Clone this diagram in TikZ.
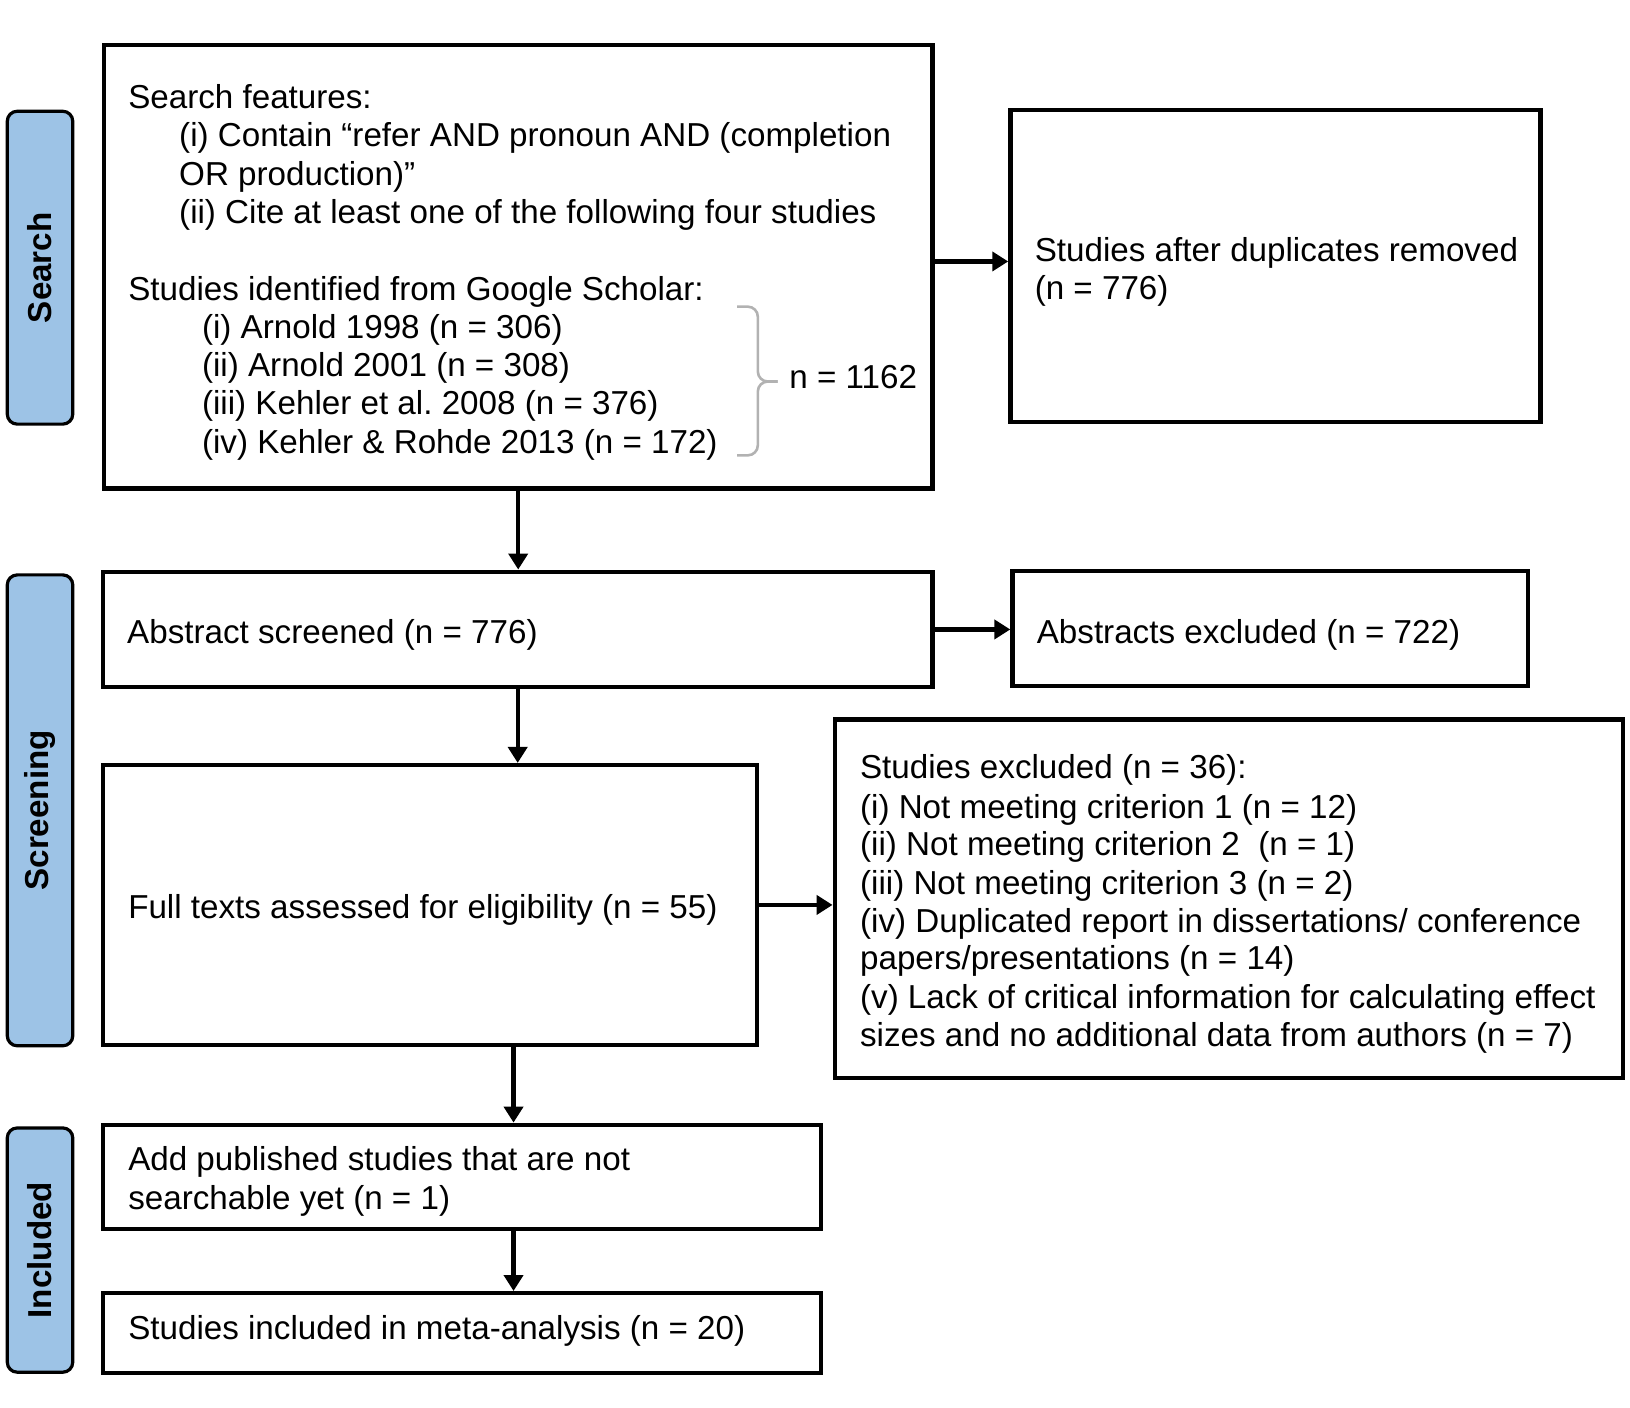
\documentclass[tikz,border=0pt]{standalone}
\usepackage{fontspec}
\setmainfont{Liberation Sans}
\usetikzlibrary{fit,arrows.meta}
\definecolor{stagefill}{RGB}{157,195,230}
\definecolor{bracegray}{RGB}{178,178,178}

\begin{document}
\begin{tikzpicture}[x=0.52pt,y=-0.52pt,
  box/.style={draw,line width=2.2pt,inner sep=0pt},
  stagebox/.style={draw,line width=1.6pt,fill=stagefill,rounded corners=5pt,inner sep=0pt},
  txt/.style={anchor=base west,inner sep=0pt,font=\fontsize{16.6pt}{19pt}\selectfont},
  lbl/.style={rotate=90,inner sep=0pt,font=\fontsize{16.6pt}{19pt}\selectfont\bfseries},
  arr/.style={-{Triangle[length=8pt,width=9.5pt]},line width=2.1pt}]
        \useasboundingbox (0,0) rectangle (1568,1354);
        % stages
        \node[stagebox,fit={(7,107) (70,408)}] (sSearch) {};
        \node[stagebox,fit={(7,553) (70,1006)}] (sScreen) {};
        \node[stagebox,fit={(7,1085) (70,1320)}] (sIncl) {};
        \node[lbl] at (sSearch) {Search};
        \node[lbl] at (sScreen) {Screening};
        \node[lbl] at (sIncl) {Included};
        % boxes
        \node[box,fit={(100,43) (897,470)}] (search) {};
        \node[box,fit={(972,106) (1482,406)}] (dup) {};
        \node[box,fit={(99,550) (897,661)}] (abstr) {};
        \node[box,fit={(974,549) (1470,660)}] (absex) {};
        \node[box,fit={(99,736) (728,1005)}] (full) {};
        \node[box,fit={(803,692) (1561,1037)}] (studex) {};
        \node[box,fit={(99,1082) (790,1182)}] (add) {};
        \node[box,fit={(99,1244) (790,1321)}] (incl) {};
        % search box text
        \node[txt] (sf0) at (123,104) {Search features:};
        \node[txt] (sf1) at (172,141) {(i) Contain “refer AND pronoun AND (completion};
        \node[txt] (sf2) at (172,178) {OR production)”};
        \node[txt] (sf3) at (172,215) {(ii) Cite at least one of the following four studies};
        \node[txt] (gs0) at (123,289) {Studies identified from Google Scholar:};
        \node[txt] (gs1) at (194,326) {(i) Arnold 1998 (n = 306)};
        \node[txt] (gs2) at (194,362) {(ii) Arnold 2001 (n = 308)};
        \node[txt] (gs3) at (194,399) {(iii) Kehler et al.\ 2008 (n = 376)};
        \node[txt] (gs4) at (194,436) {(iv) Kehler \& Rohde 2013 (n = 172)};
        \draw[bracegray,line width=1.3pt,rounded corners=5pt] (709,295) -- (729,295) -- (729,367) -- (748,367);
        \draw[bracegray,line width=1.3pt,rounded corners=5pt] (709,438) -- (729,438) -- (729,367) -- (748,367);
        \node[txt] (total) at (759,374) {n = 1162};
        % other boxes text
        \node[txt] (dup0) at (995,252) {Studies after duplicates removed};
        \node[txt] (dup1) at (995,288) {(n = 776)};
        \node[txt] (abs0) at (122,619) {Abstract screened (n = 776)};
        \node[txt] (aex0) at (997,619) {Abstracts excluded (n = 722)};
        \node[txt] (ex0) at (827,749) {Studies excluded (n = 36):};
        \node[txt] (ex1) at (827,787) {(i) Not meeting criterion 1 (n = 12)};
        \node[txt] (ex2) at (827,823) {(ii) Not meeting criterion 2~ (n = 1)};
        \node[txt] (ex3) at (827,860) {(iii) Not meeting criterion 3 (n = 2)};
        \node[txt] (ex4) at (827,897) {(iv) Duplicated report in dissertations/ conference};
        \node[txt] (ex5) at (827,933) {papers/presentations (n = 14)};
        \node[txt] (ex6) at (827,970) {(v) Lack of critical information for calculating effect};
        \node[txt] (ex7) at (827,1007) {sizes and no additional data from authors (n = 7)};
        \node[txt] (ft0) at (123,884) {Full texts assessed for eligibility (n = 55)};
        \node[txt] (ad0) at (123,1126) {Add published studies that are not};
        \node[txt] (ad1) at (123,1163) {searchable yet (n = 1)};
        \node[txt] (in0) at (123,1289) {Studies included in meta-analysis (n = 20)};
        % arrows
        \coordinate (spine) at (494,0);
        \draw[arr] ([yshift=2.6pt]search.east) -- ([yshift=2.6pt]search.east -| dup.west);
        \draw[arr] (search.south) -- (search.south |- abstr.north);
        \draw[arr] (abstr.east) -- (abstr.east -| absex.west);
        \draw[arr] (abstr.south) -- (abstr.south |- full.north);
        \draw[arr] (full.east) -- (full.east -| studex.west);
        \draw[arr] (full.south -| spine) -- (add.north -| spine);
        \draw[arr] (add.south -| spine) -- (incl.north -| spine);
      \end{tikzpicture}
\end{document}
